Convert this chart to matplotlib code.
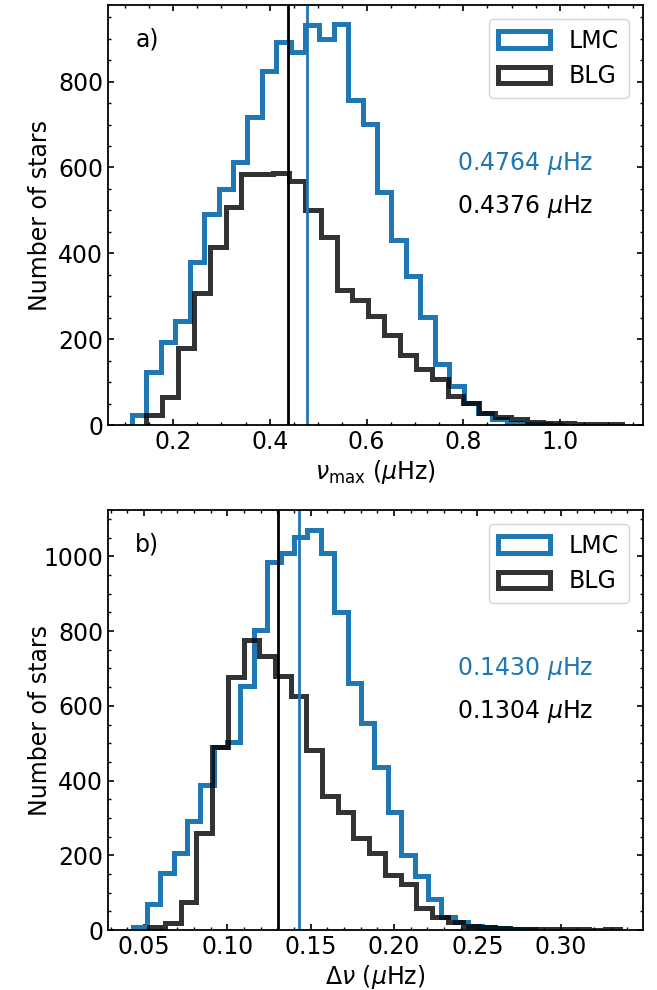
import numpy as np
import matplotlib
matplotlib.use("Agg")
import matplotlib.pyplot as plt
from matplotlib.ticker import AutoMinorLocator

# ---- data: numax panel ----
numax_lmc_range = (0.1152, 1.009)
numax_lmc_counts = [24, 125, 194, 243, 380, 491, 550, 612, 718, 825,
                    892, 869, 931, 900, 933, 758, 702, 543, 432, 347,
                    253, 142, 91, 53, 28, 14, 6, 3, 2, 1]
numax_blg_range = (0.1447, 1.128)
numax_blg_counts = [25, 67, 179, 307, 415, 508, 584, 584, 587, 568,
                    500, 439, 316, 291, 254, 210, 163, 131, 108, 68,
                    51, 28, 20, 14, 8, 6, 5, 3, 3, 4]
numax_lmc_median = 0.4764
numax_blg_median = 0.4376

# ---- data: delta nu panel ----
dnu_lmc_range = (0.0436, 0.2846)
dnu_lmc_counts = [9, 70, 153, 205, 293, 388, 489, 504, 653, 803,
                  986, 1008, 1053, 1071, 1010, 852, 662, 555, 436, 317,
                  201, 145, 82, 34, 22, 11, 9, 5, 3, 2]
dnu_blg_range = (0.0532, 0.3358)
dnu_blg_counts = [9, 20, 76, 259, 491, 678, 775, 734, 681, 626,
                  481, 359, 317, 245, 207, 147, 123, 58, 34, 22,
                  11, 9, 6, 4, 3, 2, 2, 2, 1, 3]
dnu_lmc_median = 0.1430
dnu_blg_median = 0.1304

labels = ["LMC", "BLG"]
blue = "#1f77b4"

fig = plt.figure(figsize=(6.57, 9.9), dpi=100)
ax1 = fig.add_axes([0.1644, 0.5704, 0.8139, 0.4245])
ax2 = fig.add_axes([0.1644, 0.0606, 0.8139, 0.4242])

FS = 17

def panel(ax, lmc_rng, lmc_c, blg_rng, blg_c, med_l, med_b, xlim, ylim, xlabel, tag):
    e_l = np.linspace(lmc_rng[0], lmc_rng[1], len(lmc_c) + 1)
    e_b = np.linspace(blg_rng[0], blg_rng[1], len(blg_c) + 1)
    ax.hist(e_l[:-1], bins=e_l, weights=lmc_c, histtype="step", lw=3.6,
            color=blue, label=labels[0])
    ax.hist(e_b[:-1], bins=e_b, weights=blg_c, histtype="step", lw=3.6,
            color="k", alpha=0.8, label=labels[1])
    ax.axvline(med_l, color=blue, lw=2)
    ax.axvline(med_b, color="k", lw=2)
    ax.set_xlim(*xlim)
    ax.set_ylim(*ylim)
    ax.set_xlabel(xlabel, fontsize=FS, labelpad=3)
    ax.set_ylabel("Number of stars", fontsize=FS, va="center")
    ax.yaxis.set_label_coords(-0.127, 0.5)
    ax.xaxis.set_minor_locator(AutoMinorLocator())
    ax.yaxis.set_minor_locator(AutoMinorLocator())
    ax.tick_params(which="both", direction="in", top=True, right=True,
                   labelsize=FS)
    ax.tick_params(which="major", length=4.5, width=1.2)
    ax.tick_params(which="minor", length=2.5, width=1.0)
    for s in ax.spines.values():
        s.set_linewidth(1.3)
    ax.text(0.073, 0.918, tag, transform=ax.transAxes, ha="center",
            va="center", fontsize=FS)
    ax.text(0.652, 0.622, f"{med_l:.4f} $\\mu$Hz", color=blue,
            transform=ax.transAxes, ha="left", va="center", fontsize=FS)
    ax.text(0.652, 0.52, f"{med_b:.4f} $\\mu$Hz", color="k",
            transform=ax.transAxes, ha="left", va="center", fontsize=FS)
    ax.legend(loc="upper right", fontsize=FS, handlelength=2.2,
              borderaxespad=0.6)

panel(ax1, numax_lmc_range, numax_lmc_counts, numax_blg_range, numax_blg_counts,
      numax_lmc_median, numax_blg_median, (0.0655, 1.171), (0, 978),
      r"$\nu_{\rm max}$ ($\mu$Hz)", "a)")
panel(ax2, dnu_lmc_range, dnu_lmc_counts, dnu_blg_range, dnu_blg_counts,
      dnu_lmc_median, dnu_blg_median, (0.0284, 0.3492), (0, 1124),
      r"$\Delta\nu$ ($\mu$Hz)", "b)")
ax2.set_xticks([0.05, 0.10, 0.15, 0.20, 0.25, 0.30])
ax2.set_xticklabels(["0.05", "0.10", "0.15", "0.20", "0.25", "0.30"])
ax2.xaxis.set_minor_locator(AutoMinorLocator(5))

fig.savefig("out.png", dpi=100)
